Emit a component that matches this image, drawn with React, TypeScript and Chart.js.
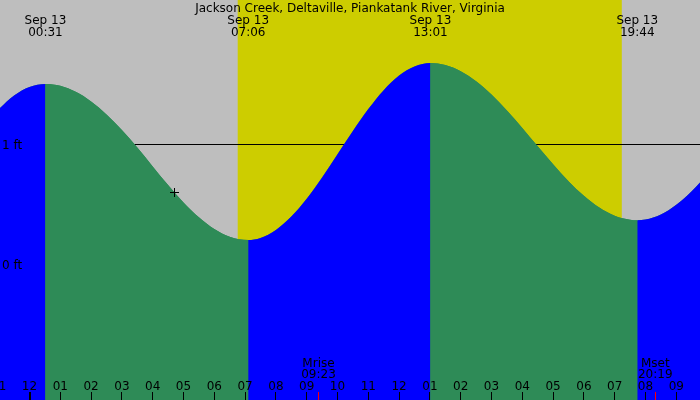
import { useEffect, useRef } from 'react';
import { Chart, registerables } from 'chart.js';
import type { Plugin, ScriptableLineSegmentContext } from 'chart.js';

Chart.register(...registerables);

// tide level in feet, x = hours after midnight Sep 13
const curveHours = [
  -1, -0.5, 0, 0.517, 1, 1.5, 2, 2.5, 3, 3.5, 4, 4.5, 5, 5.5, 6, 6.5, 7.1,
  7.5, 8, 8.5, 9, 9.5, 10, 10.5, 11, 11.5, 12, 12.5, 13.017,
  13.5, 14, 14.5, 15, 15.5, 16, 16.5, 17, 17.5, 18, 18.5, 19, 19.5, 19.733,
  20, 20.5, 21, 21.5, 22,
];
const curveLevels = [
  1.295, 1.408, 1.479, 1.505, 1.489, 1.439, 1.359, 1.251, 1.121, 0.974, 0.817, 0.662, 0.517, 0.393, 0.295, 0.231, 0.204,
  0.221, 0.287, 0.399, 0.548, 0.726, 0.919, 1.113, 1.295, 1.453, 1.575, 1.651, 1.679,
  1.662, 1.611, 1.528, 1.416, 1.284, 1.138, 0.985, 0.835, 0.694, 0.572, 0.474, 0.406, 0.372, 0.368,
  0.374, 0.416, 0.497, 0.61, 0.749,
];

// high / low tide labels along the top
const tideHours = [0.517, 7.1, 13.017, 19.733];
const tideDates = ['Sep 13', 'Sep 13', 'Sep 13', 'Sep 13'];
const tideTimes = ['00:31', '07:06', '13:01', '19:44'];

// hour ticks along the bottom
const hourTicks = [-1, 0, 1, 2, 3, 4, 5, 6, 7, 8, 9, 10, 11, 12, 13, 14, 15, 16, 17, 18, 19, 20, 21];
const hourLabels = ['11', '12', '01', '02', '03', '04', '05', '06', '07', '08', '09', '10', '11', '12', '01', '02', '03', '04', '05', '06', '07', '08', '09'];

const moonHours = [9.383, 20.317];
const moonNames = ['Mrise', 'Mset'];
const moonTimes = ['09:23', '20:19'];

const sunrise = 6.76;
const sunset = 19.23;

const depthLevels = [0, 1];
const depthLabels = ['0 ft', '1 ft'];

const nowHour = 4.7;
const nowLevel = 0.6;

const title = 'Jackson Creek, Deltaville, Piankatank River, Virginia';

const NIGHT = '#bebebe';
const DAY = '#cdcd00';
const FLOOD = '#0000ff';
const EBB = '#2e8b57';
const FONT = '12px "DejaVu Sans"';

const tidePlugin: Plugin<'line'> = {
  id: 'tideDecor',
  beforeDraw(chart) {
    const { ctx, chartArea: a, scales } = chart;
    const x = scales.x;
    const y = scales.y;
    ctx.save();
    ctx.fillStyle = NIGHT;
    ctx.fillRect(a.left, a.top, a.width, a.height);
    const x0 = x.getPixelForValue(sunrise);
    const x1 = x.getPixelForValue(sunset);
    ctx.fillStyle = DAY;
    ctx.fillRect(x0, a.top, x1 - x0, a.height);
    // depth lines, mostly hidden by the water
    ctx.fillStyle = '#000';
    depthLevels.forEach(v => {
      ctx.fillRect(a.left, Math.floor(y.getPixelForValue(v)), a.width, 1);
    });
    ctx.restore();
  },
  afterDatasetsDraw(chart) {
    const { ctx, chartArea: a, scales } = chart;
    const x = scales.x;
    const y = scales.y;
    ctx.save();
    ctx.font = FONT;
    ctx.fillStyle = '#000';
    ctx.textAlign = 'center';
    ctx.textBaseline = 'alphabetic';

    ctx.fillText(title, (a.left + a.right) / 2, 12);

    tideHours.forEach((h, i) => {
      const px = x.getPixelForValue(h);
      ctx.fillText(tideDates[i], px, 24);
      ctx.fillText(tideTimes[i], px, 36);
    });

    hourTicks.forEach((h, i) => {
      const px = x.getPixelForValue(h);
      if (h % 24 === 0) {
        ctx.fillRect(Math.round(px) - 1, 392, 2, 8);
      } else {
        ctx.fillRect(Math.floor(px), 392, 1, 8);
      }
      ctx.fillText(hourLabels[i], px, 390);
    });

    moonHours.forEach((h, i) => {
      const px = x.getPixelForValue(h);
      ctx.fillStyle = '#000';
      ctx.fillText(moonNames[i], px, 367);
      ctx.fillText(moonTimes[i], px, 378);
      ctx.fillStyle = '#ff0000';
      ctx.fillRect(Math.floor(px), 392, 1, 8);
    });

    ctx.fillStyle = '#000';
    ctx.textAlign = 'left';
    depthLevels.forEach((v, i) => {
      ctx.fillText(depthLabels[i], 2, Math.floor(y.getPixelForValue(v)) + 5);
    });

    // current time mark
    const cx = Math.floor(x.getPixelForValue(nowHour));
    const cy = Math.floor(y.getPixelForValue(nowLevel));
    ctx.fillRect(cx - 4, cy, 9, 1);
    ctx.fillRect(cx, cy - 4, 1, 9);
    ctx.restore();
  },
};

export default function App() {
  const chartRef = useRef<HTMLCanvasElement>(null);
  const chartInstance = useRef<Chart | null>(null);

  useEffect(() => {
    if (!chartRef.current) return;
    if (chartInstance.current) {
      chartInstance.current.destroy();
    }
    const ctx = chartRef.current.getContext('2d');
    if (!ctx) return;

    const points = curveHours.map((h, i) => ({ x: h, y: curveLevels[i] }));

    // 0 ft sits at 264.5px and 1 ft at 144.5px on the 400px canvas
    const yMax = 264.5 / 120;
    const yMin = yMax - 400 / 120;
    const xMin = -29.5 / 30.8;
    const xMax = (700 - 29.5) / 30.8;

    chartInstance.current = new Chart(ctx, {
      type: 'line',
      data: {
        datasets: [
          {
            // flood = blue, ebb = green
            label: 'Tide',
            data: points,
            fill: 'start',
            backgroundColor: FLOOD,
            borderColor: 'transparent',
            borderWidth: 0,
            pointRadius: 0,
            cubicInterpolationMode: 'monotone',
            segment: {
              backgroundColor: (c: ScriptableLineSegmentContext) =>
                c.p1.parsed.y < c.p0.parsed.y ? EBB : FLOOD,
            },
          },
          {
            // plain underlay so the colour joins don't show seams
            label: 'Underlay',
            data: points,
            fill: 'start',
            backgroundColor: EBB,
            borderColor: 'transparent',
            borderWidth: 0,
            pointRadius: 0,
            cubicInterpolationMode: 'monotone',
          },
        ],
      },
      options: {
        animation: false,
        responsive: true,
        maintainAspectRatio: false,
        layout: { padding: 0 },
        events: [],
        scales: {
          x: { type: 'linear', min: xMin, max: xMax, display: false },
          y: { type: 'linear', min: yMin, max: yMax, display: false },
        },
        plugins: {
          legend: { display: false },
          tooltip: { enabled: false },
        },
      },
      plugins: [tidePlugin],
    });

    return () => {
      if (chartInstance.current) {
        chartInstance.current.destroy();
        chartInstance.current = null;
      }
    };
  }, []);

  return (
    <div style={{ position: 'absolute', left: 0, top: 0, width: 700, height: 400 }}>
      <canvas ref={chartRef}></canvas>
    </div>
  );
}
